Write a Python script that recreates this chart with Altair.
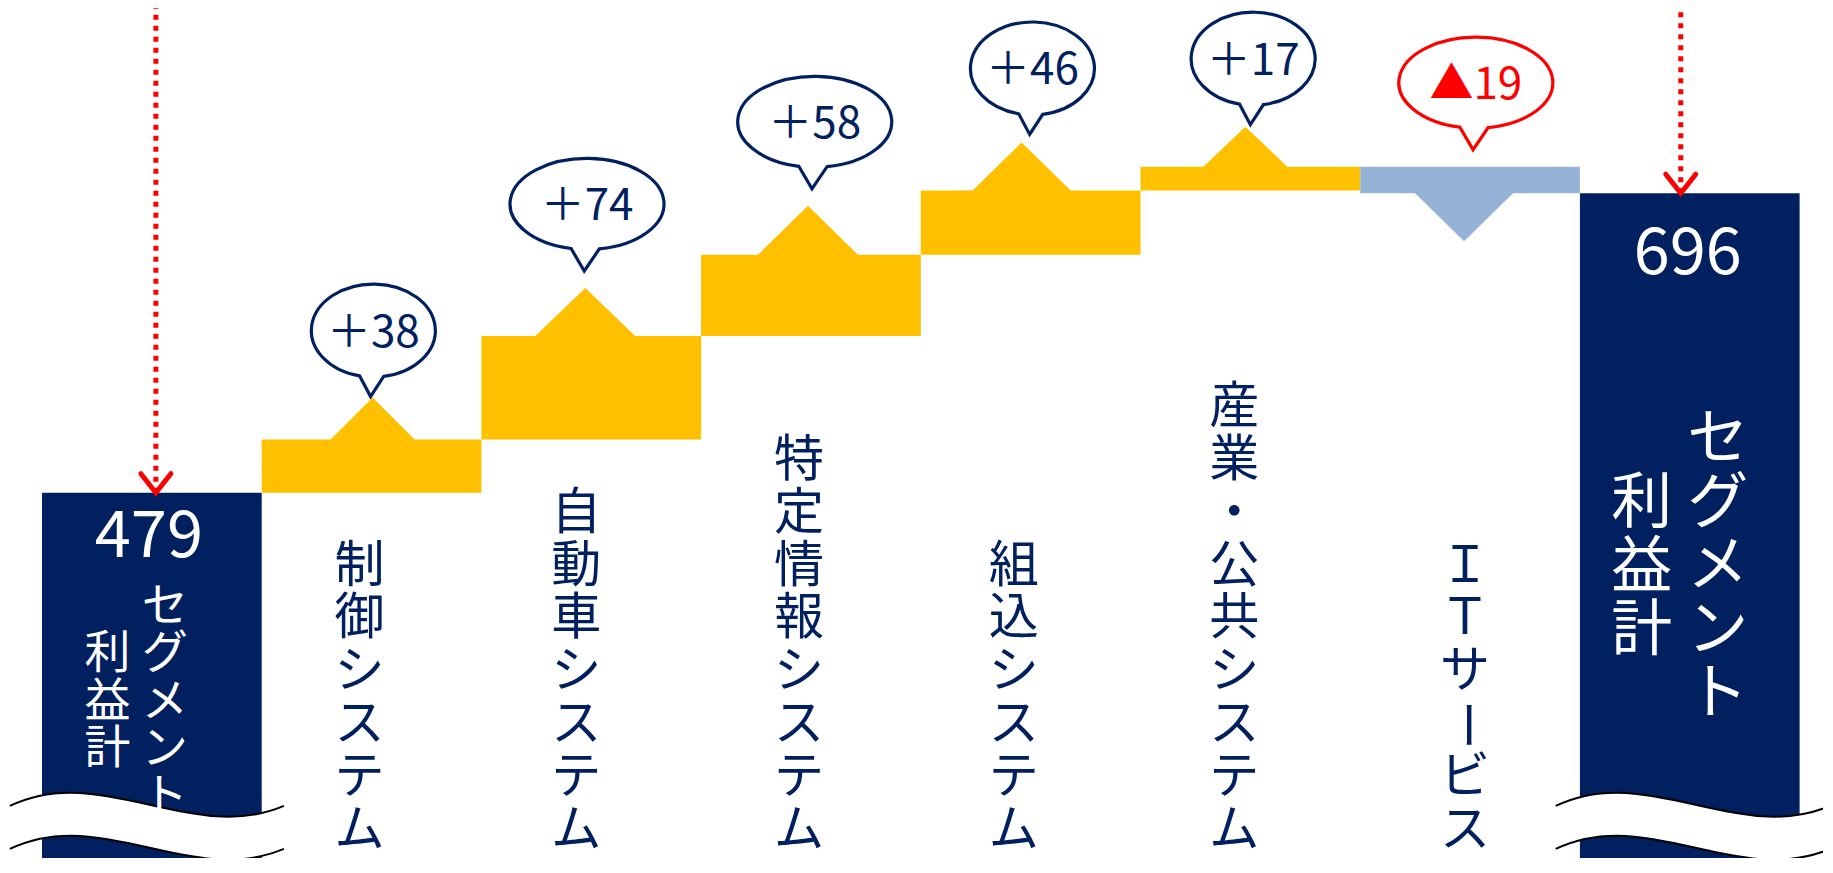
import math
import altair as alt
import pandas as pd

# ------------------------------------------------------------------ data
start_label = "479"
start_value = 479
end_label = "696"
categories = ["制御システム", "自動車システム", "特定情報システム",
              "組込システム", "産業・公共システム", "ＩＴサービス"]
changes = [38, 74, 58, 46, 17, -19]
change_labels = ["＋38", "＋74", "＋58", "＋46", "＋17", "▲19"]
total_title_cols = ["セグメント", "利益計"]
break_level = 255.1          # profit level at which the axis-break wave sits

# ------------------------------------------------------------------ style
NAVY, GOLD, LIGHT, RED = "#002060", "#FFC000", "#95B3D7", "#FF0000"
FONT = "Noto Sans CJK JP"

W, H = 1815, 850
COL = 219.7                  # px per column
X0 = -0.1548
X1 = X0 + W / COL
PPU = 1.39918                # px per profit unit
Y1 = 825.4
Y0 = Y1 - H / PPU


def px_x(d):
    return d / COL


def px_v(d):
    return d / PPU


xs = alt.Scale(domain=[X0, X1], nice=False, zero=False)
ys = alt.Scale(domain=[Y0, Y1], nice=False, zero=False)

# per-step marker styling
tri_hw = [43, 51, 51, 50, 43, 50]
tri_h = [42, 48, 49, 48, 40, 48]
tri_dx = [1, -6, -3, -9, -5, -6]
bubble_big = [False, True, True, False, False, True]
tip_dx = [-1, -7, 1, -1, 0, 3]
tip_up = [43, 65, 66, 56, 42, 17]
label_dx = [-12, -15, -12, -17, -16, -5]

# ------------------------------------------------------------------ tables
levels = [start_value]
for c in changes:
    levels.append(levels[-1] + c)
end_value = levels[-1]

bars = [dict(x0=0, x1=1, lo=Y0, hi=start_value, col=NAVY)]
tris, bubbles, btexts = [], [], []
for i, c in enumerate(changes):
    lo, hi = min(levels[i], levels[i + 1]), max(levels[i], levels[i + 1])
    up = c > 0
    bars.append(dict(x0=i + 1, x1=i + 2, lo=lo, hi=hi, col=GOLD if up else LIGHT))
    hw, h, dx = tri_hw[i], tri_h[i], tri_dx[i]
    if up:
        p = f"M{dx-hw},1L{dx},{-h}L{dx+hw},1Z"
        tv = hi
    else:
        p = f"M{dx-hw},-1L{dx},{h}L{dx+hw},-1Z"
        tv = lo
    tris.append(dict(x=i + 1.5, v=tv, path=p, col=GOLD if up else LIGHT))

    # speech bubble anchored at bar top
    if bubble_big[i]:
        rx, ry, cup, ldx, rdx = 77, 45.5, 67, -16, 12.3
    else:
        rx, ry, cup, ldx, rdx = 62, 46.5, 66, -13.7, 10.3
    tx, ty = tip_dx[i], -tip_up[i]
    cx, cy = tx + 2.8, ty - cup
    lx, ly = cx + ldx, cy + ry * math.sqrt(1 - (ldx / rx) ** 2)
    rxp, ryp = cx + rdx, cy + ry * math.sqrt(1 - (rdx / rx) ** 2)
    bp = (f"M{lx:.1f},{ly:.1f}A{rx},{ry} 0 1 1 {rxp:.1f},{ryp:.1f}"
          f"L{tx:.1f},{ty:.1f}Z")
    sc = NAVY if up else RED
    bubbles.append(dict(x=i + 1.5, v=hi, path=bp, sc=sc))
    btexts.append(dict(x=i + 1.5 + px_x(cx), v=hi - px_v(cy + 16),
                       t=change_labels[i], sc=sc))
bars.append(dict(x0=7, x1=8, lo=Y0, hi=end_value, col=NAVY))

bars_df = pd.DataFrame(bars)
tris_df = pd.DataFrame(tris)
bub_df = pd.DataFrame(bubbles)
btext_df = pd.DataFrame(btexts)

arrows_df = pd.DataFrame(dict(x=[0.5 + px_x(4), 7.5 + px_x(-9)],
                              v=[start_value, end_value]))
waves_df = pd.DataFrame(dict(x=[0.5 + px_x(-5), 7.5 + px_x(3)],
                             v=[break_level, break_level]))

# character-by-character vertical text (tategaki)
rows = []


def add_col(text, x, c0, pitch, fs, color):
    for k, ch in enumerate(text):
        rows.append(dict(ch=ch, x=x, py=c0 + pitch * k - 8 + 0.08 * fs,
                         fs=fs, col=color, ang=90 if ch == "ー" else 0))


for j, lab in enumerate(categories):
    n = len(lab)
    add_col(lab, j + 1.5 + px_x(label_dx[j]), 826.5 - 52.8 * (n - 1), 52.8, 50, NAVY)

add_col(total_title_cols[0], 0.5 + px_x(13), 603.3, 47.5, 46, "white")
add_col(total_title_cols[1], 0.5 + px_x(-44.4), 650.8, 47.5, 46, "white")
add_col(total_title_cols[0], 7.5 + px_x(28), 436, 63.75, 61, "white")
add_col(total_title_cols[1], 7.5 + px_x(-48), 500, 63.75, 61, "white")
chars_df = pd.DataFrame(rows)

nums_df = pd.DataFrame(dict(t=[start_label, end_label],
                            x=[0.5 + px_x(-3), 7.5 + px_x(-2)],
                            py=[556.7 - 8, 274 - 8]))

# ------------------------------------------------------------------ marks
X = lambda f: alt.X(f, scale=xs, axis=None)
Y = lambda f: alt.Y(f, scale=ys, axis=None)

bar_layer = alt.Chart(bars_df).mark_rect(opacity=1).encode(
    x=X("x0:Q"), x2="x1:Q", y=Y("lo:Q"), y2="hi:Q",
    color=alt.Color("col:N", scale=None))

tri_layer = alt.Chart(tris_df).mark_point(filled=True, opacity=1, size=4, strokeWidth=0).encode(
    x=X("x:Q"), y=Y("v:Q"),
    shape=alt.Shape("path:N", scale=None),
    color=alt.Color("col:N", scale=None))

WAVE_UP = "M-137,0C-46,-44 46,39 137,0"
WAVE_LO = "M-137,43C-46,-1 46,82 137,43"
WAVE_BAND = "M-137,0C-46,-44 46,39 137,0L137,43C46,82 -46,-1 -137,43Z"

band_layer = alt.Chart(waves_df).mark_point(
    shape=WAVE_BAND, filled=True, opacity=1, size=4, color="white", strokeWidth=0
).encode(x=X("x:Q"), y=Y("v:Q"))

wave_line_layer = alt.Chart(waves_df).mark_point(
    shape=WAVE_UP + WAVE_LO, filled=False, opacity=1, size=4, color="#000000", strokeWidth=2
).encode(x=X("x:Q"), y=Y("v:Q"))

rule_layer = alt.Chart(arrows_df).mark_rule(
    color=RED, strokeWidth=5, strokeDash=[5, 6]
).encode(x=X("x:Q"), y=Y("v:Q"), y2=alt.value(0))

chev_layer = alt.Chart(arrows_df).mark_point(
    shape="M-15,-19L0,0L15,-19", filled=False, opacity=1, size=4, color=RED,
    strokeWidth=5, strokeCap="round"
).encode(x=X("x:Q"), y=Y("v:Q"))

bub_layer = alt.Chart(bub_df).mark_point(
    filled=True, opacity=1, size=4, strokeWidth=3.2
).encode(
    x=X("x:Q"), y=Y("v:Q"),
    shape=alt.Shape("path:N", scale=None),
    fill=alt.value("white"),
    stroke=alt.Stroke("sc:N", scale=None))

btext_layer = alt.Chart(btext_df).mark_text(
    font=FONT, fontSize=44, align="center", baseline="alphabetic"
).encode(x=X("x:Q"), y=Y("v:Q"), text="t:N",
         color=alt.Color("sc:N", scale=None))

chars_layer = alt.Chart(chars_df).mark_text(
    font=FONT, align="center", baseline="middle"
).encode(
    x=X("x:Q"),
    y=alt.Y("py:Q", scale=None, axis=None),
    text="ch:N",
    size=alt.Size("fs:Q", scale=None),
    color=alt.Color("col:N", scale=None),
    angle=alt.Angle("ang:Q", scale=None))

nums_layer = alt.Chart(nums_df).mark_text(
    font=FONT, fontSize=65, align="center", baseline="alphabetic", color="white"
).encode(x=X("x:Q"), y=alt.Y("py:Q", scale=None, axis=None), text="t:N")

chart = alt.layer(
    bar_layer, tri_layer, band_layer, wave_line_layer, rule_layer, chev_layer,
    bub_layer, btext_layer, chars_layer, nums_layer
).properties(
    width=W, height=H, padding=0, background="white",
    autosize=alt.AutoSizeParams(type="none")
).configure_view(stroke=None)

chart.save("out.html", embed_options={"renderer": "svg", "actions": False})
